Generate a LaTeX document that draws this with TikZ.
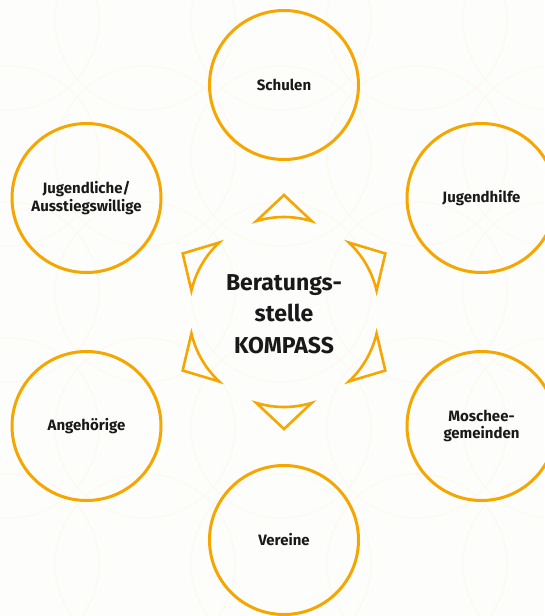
\documentclass[tikz,border=0pt]{standalone}
\usepackage{fontspec}
\setmainfont{Fira Sans}
\definecolor{kompass}{RGB}{245,166,0}
\definecolor{bgcol}{RGB}{253,253,251}
\definecolor{faintcol}{RGB}{252,249,240}
\begin{document}
\begin{tikzpicture}[x=1pt,y=1pt,
  ring/.style={circle,draw=kompass,line width=3pt,minimum size=149pt,inner sep=0pt,
    align=center,font=\fontsize{15}{17.5}\selectfont\bfseries,text=black!90},
  hub/.style={circle,minimum size=180pt,inner sep=0pt,align=center,
    font=\fontsize{23}{31.5}\selectfont\bfseries,text=black!90},
  pointer/.style={draw=kompass,line width=2.6pt,line join=miter},
  faint/.style={draw=faintcol,line width=1.2pt}]
\useasboundingbox (0,0) rectangle (544,-616);
\fill[bgcol] (0,0) rectangle (544,-616);
\begin{scope}
\clip (0,0) rectangle (544,-616);
\foreach \i in {0,...,4}{
  \foreach \j in {0,...,4}{
    \draw[faint] ({9+136*\i},{-20-136*\j}) circle[radius=90];
  }
}
\end{scope}
\node[hub] (hub) at (284,-312) {};
\node[hub] (hubtext) at (284,-314) {Beratungs-\\stelle\\KOMPASS};
\node[ring] (schulen) at (284,-85) {Schulen};
\node[ring] (jugendhilfe) at (481.5,-198) {Jugendhilfe};
\node[ring] (moschee) at (481.5,-426) {Moschee-\\gemeinden};
\node[ring] (vereine) at (284,-540) {Vereine};
\node[ring] (angeh) at (86.5,-426) {Angehörige};
\node[ring] (jugendliche) at (86.5,-198) {Jugendliche/\\Ausstiegswillige};
\begin{scope}[shift={(hub.center)}]
\foreach \a in {90,30,-30,-90,-150,150}{
  \draw[pointer] (\a:117) -- ({\a+17}:95) arc[start angle={\a+17}, end angle={\a-17}, radius=95] -- cycle;
}
\end{scope}
\end{tikzpicture}
\end{document}
